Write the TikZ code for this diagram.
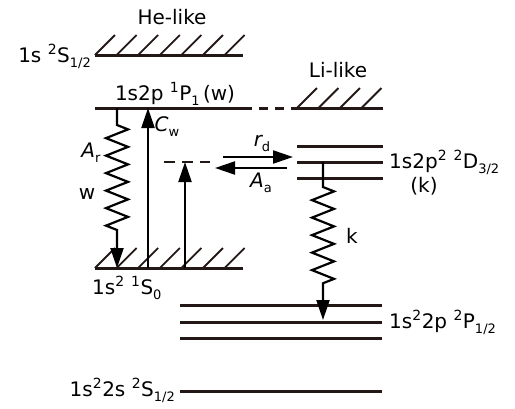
\documentclass[tikz,border=0pt]{standalone}
\usepackage{fontspec}
\setmainfont{DejaVu Sans}
\usepackage{tikz}
\usetikzlibrary{
  arrows.meta,
  positioning,
  decorations.pathmorphing
}
\definecolor{levelcolor}{RGB}{35, 24, 21}
\definecolor{arrowcolor}{RGB}{0, 0, 0}
\definecolor{labelcolor}{RGB}{0, 0, 0}
\newcommand{\lowsub}[1]{\raisebox{-5pt}{\fontsize{13}{13}\selectfont #1}}
\tikzset{
levellabel/.style={
  font=\fontsize{20}{23}\selectfont,
  text=labelcolor,
  inner sep=0pt
},
ratelabel/.style={
  levellabel
},
level/.style={
  draw=levelcolor,
  line width=3pt
},
hatch/.style={
  draw=levelcolor,
  line width=1.8pt
},
dashedlevel/.style={
  level,
  dash pattern=on 9pt off 7pt
}
}

\begin{document}
\begin{tikzpicture}[
    x=1pt, y=-1pt,
    % arrows
    arrow/.style={-{Triangle[length=20pt, width=13pt]}, line width=2.2pt, arrowcolor},
    wavyarrow/.style={arrow, decorate,
      decoration={zigzag, amplitude=11pt, segment length=17.5pt,
        pre length=17pt, post length=30pt}},
]
\useasboundingbox (0,0) rectangle (515,408);

% ============================================================================
% HE-LIKE LEVELS
% ============================================================================
\node[levellabel, anchor=base] (helike) at (172,24) {He-like};

\coordinate (heionL) at (95,55);
\coordinate (heionR) at (243,55);
\draw[level] (heionL) -- (heionR);
\foreach \i in {0,...,6}
  \draw[hatch] (95+21.6*\i,55) -- ++(20,-20);
\node[levellabel, anchor=base east] (heionlabel) at (91,62)
  {1s \textsuperscript{2}S\lowsub{1/2}};

\coordinate (wL) at (95,108);
\coordinate (wR) at (243,108);
\draw[level] (wL) -- (wR);
\node[levellabel, anchor=base] (wlabel) at (175,100)
  {1s2p \textsuperscript{1}P\lowsub{1}\,(w)};

\coordinate (gsL) at (95,268);
\coordinate (gsR) at (243,268);
\draw[level] (gsL) -- (gsR);
\foreach \i in {0,...,6}
  \draw[hatch] (95+21.6*\i,268) -- ++(20,-20);
\node[levellabel, anchor=base west] (gslabel) at (92,294)
  {1s\textsuperscript{2} \textsuperscript{1}S\lowsub{0}};

% ============================================================================
% LI-LIKE LEVELS
% ============================================================================
\node[levellabel, anchor=base] (lilike) at (338,77) {Li-like};

\coordinate (liionL) at (297,108);
\coordinate (liionR) at (383,108);
\draw[dashedlevel] (wR) -- (liionL);
\draw[level] (liionL) -- (liionR);
\foreach \i in {0,...,3}
  \draw[hatch] (297+21.5*\i,108) -- ++(20,-20);

\foreach \y/\n in {146/a, 162/b, 178/c} {
  \coordinate (dL\n) at (297,\y);
  \coordinate (dR\n) at (383,\y);
  \draw[level] (dL\n) -- (dR\n);
}
\node[levellabel, anchor=base west] (dlabel) at (389,168)
  {1s2p\textsuperscript{2} \textsuperscript{2}D\lowsub{3/2}};
\node[levellabel, anchor=base] (klabel) at (424,192) {(k)};

\foreach \y/\n in {305/a, 322/b, 338/c} {
  \coordinate (pL\n) at (180,\y);
  \coordinate (pR\n) at (382,\y);
  \draw[level] (pL\n) -- (pR\n);
}
\node[levellabel, anchor=base west] (plabel) at (389,328)
  {1s\textsuperscript{2}2p \textsuperscript{2}P\lowsub{1/2}};

\coordinate (sL) at (180,391);
\coordinate (sR) at (382,391);
\draw[level] (sL) -- (sR);
\node[levellabel, anchor=base east] (slabel) at (175,396)
  {1s\textsuperscript{2}2s \textsuperscript{2}S\lowsub{1/2}};

% ============================================================================
% TRANSITIONS
% ============================================================================
\coordinate (artop) at (117,108);
\coordinate (arbot) at (117,268);
\draw[wavyarrow] (artop) -- (arbot);
\node[ratelabel, anchor=base] (arlabel) at (91,157) {{\itshape A}\lowsub{r}};
\node[ratelabel] (wline) at (87,194) {w};

\coordinate (cwbot) at (148,268);
\coordinate (cwtop) at (148,108);
\draw[arrow] (cwbot) -- (cwtop);
\node[ratelabel, anchor=base] (cwlabel) at (167,131) {{\itshape C}\lowsub{w}};

\coordinate (dcbot) at (185,268);
\coordinate (dctop) at (185,162);
\coordinate (dcL) at (164,162);
\coordinate (dcR) at (210,162);
\draw[level, line width=2.2pt, dash pattern=on 11pt off 7pt] (dcL) -- (dcR);
\draw[arrow] (dcbot) -- (dctop);

\coordinate (rdL) at (223,157);
\coordinate (rdR) at (293,157);
\coordinate (aaR) at (287,168);
\coordinate (aaL) at (215,168);
\draw[arrow] (rdL) -- (rdR);
\draw[arrow] (aaR) -- (aaL);
\node[ratelabel, anchor=base] (rdlabel) at (262,146) {{\itshape r}\lowsub{d}};
\node[ratelabel, anchor=base] (aalabel) at (261,187) {{\itshape A}\lowsub{a}};

\coordinate (ktop) at (323,162);
\coordinate (kbot) at (323,320);
\draw[wavyarrow, decoration={pre length=25pt, post length=34pt}] (ktop) -- (kbot);
\node[ratelabel] (kline) at (352,236) {k};

\end{tikzpicture}
\end{document}
